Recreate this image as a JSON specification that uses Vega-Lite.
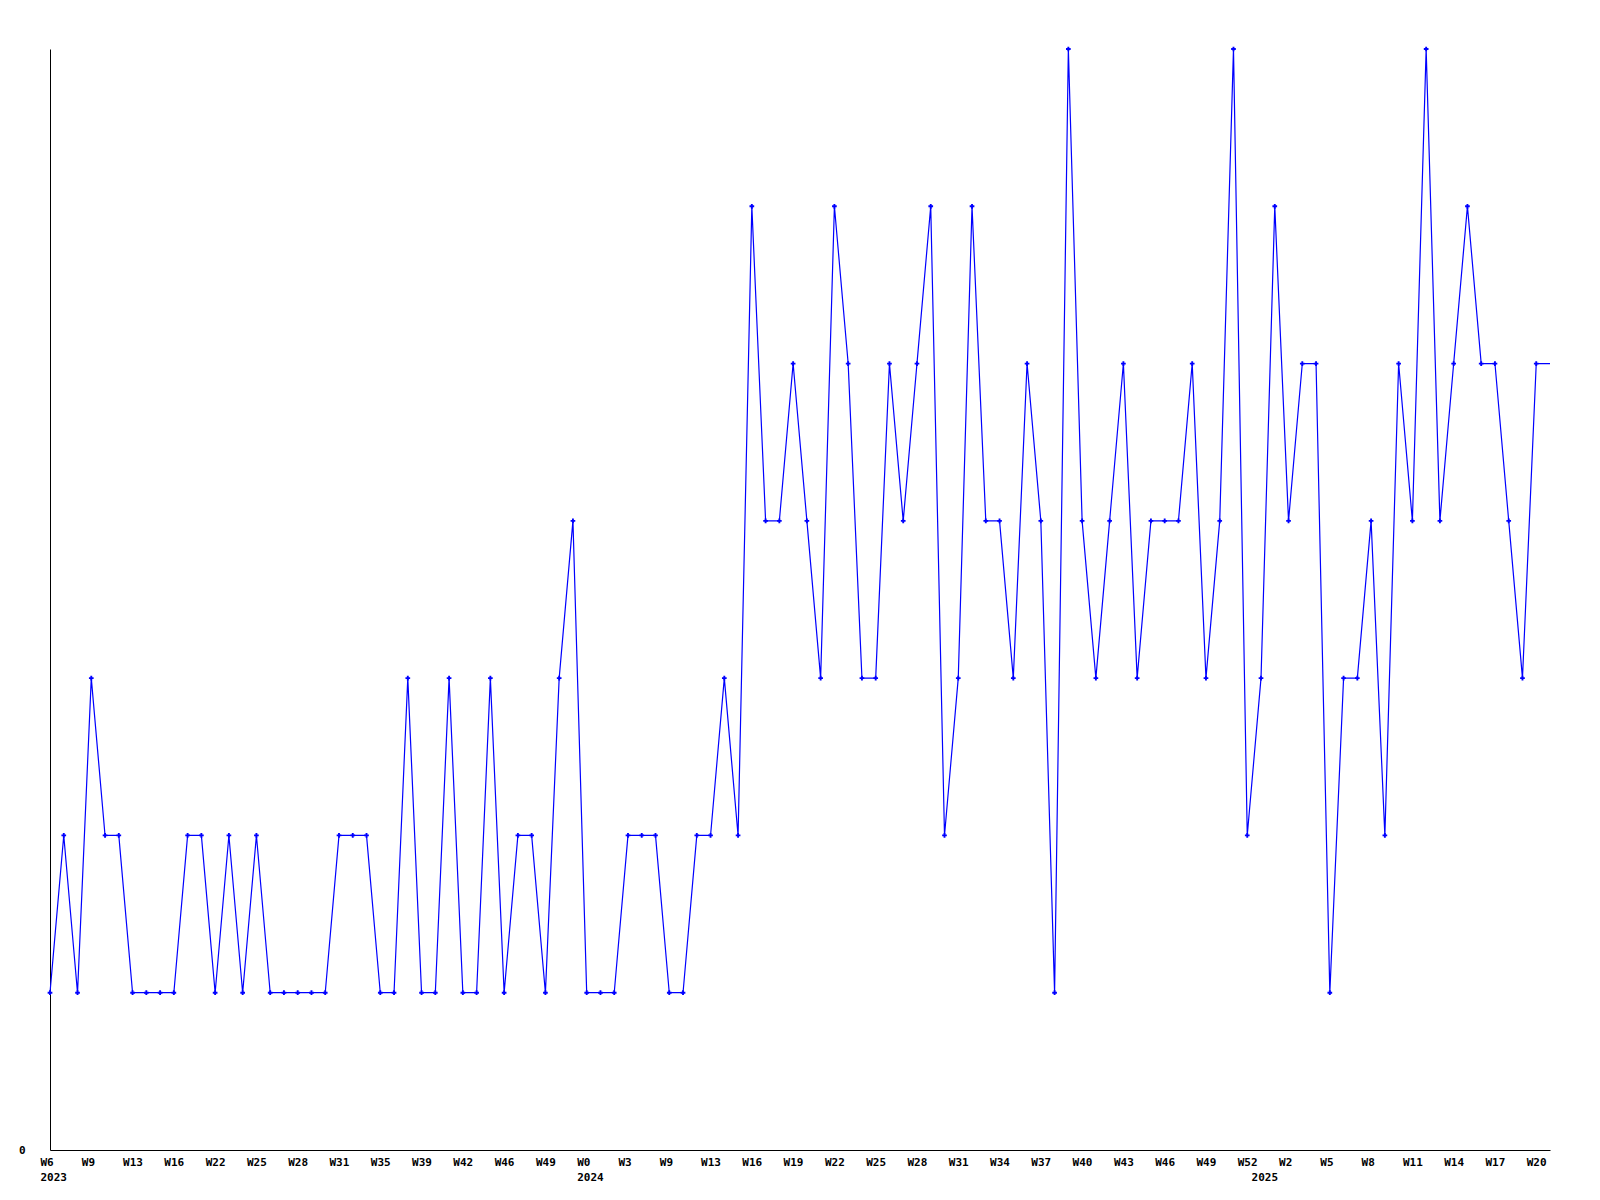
{
  "$schema": "https://vega.github.io/schema/vega-lite/v6.json",
  "width": 1500,
  "height": 1101,
  "autosize": {"type": "none"},
  "padding": {"left": 50, "top": 49, "right": 50, "bottom": 50},
  "background": "white",
  "config": {"view": {"stroke": null}},
  "data": {"values": [
    {"week":"2023 W6","v":1,"marker":true},{"week":"2023 W7","v":2,"marker":true},{"week":"2023 W8","v":1,"marker":true},
    {"week":"2023 W9","v":3,"marker":true},{"week":"2023 W10","v":2,"marker":true},{"week":"2023 W11","v":2,"marker":true},
    {"week":"2023 W13","v":1,"marker":true},{"week":"2023 W14","v":1,"marker":true},{"week":"2023 W15","v":1,"marker":true},
    {"week":"2023 W16","v":1,"marker":true},{"week":"2023 W17","v":2,"marker":true},{"week":"2023 W18","v":2,"marker":true},
    {"week":"2023 W22","v":1,"marker":true},{"week":"2023 W23","v":2,"marker":true},{"week":"2023 W24","v":1,"marker":true},
    {"week":"2023 W25","v":2,"marker":true},{"week":"2023 W26","v":1,"marker":true},{"week":"2023 W27","v":1,"marker":true},
    {"week":"2023 W28","v":1,"marker":true},{"week":"2023 W29","v":1,"marker":true},{"week":"2023 W30","v":1,"marker":true},
    {"week":"2023 W31","v":2,"marker":true},{"week":"2023 W32","v":2,"marker":true},{"week":"2023 W33","v":2,"marker":true},
    {"week":"2023 W35","v":1,"marker":true},{"week":"2023 W36","v":1,"marker":true},{"week":"2023 W37","v":3,"marker":true},
    {"week":"2023 W39","v":1,"marker":true},{"week":"2023 W40","v":1,"marker":true},{"week":"2023 W41","v":3,"marker":true},
    {"week":"2023 W42","v":1,"marker":true},{"week":"2023 W43","v":1,"marker":true},{"week":"2023 W44","v":3,"marker":true},
    {"week":"2023 W46","v":1,"marker":true},{"week":"2023 W47","v":2,"marker":true},{"week":"2023 W48","v":2,"marker":true},
    {"week":"2023 W49","v":1,"marker":true},{"week":"2023 W50","v":3,"marker":true},{"week":"2023 W51","v":4,"marker":true},
    {"week":"2024 W0","v":1,"marker":true},{"week":"2024 W1","v":1,"marker":true},{"week":"2024 W2","v":1,"marker":true},
    {"week":"2024 W3","v":2,"marker":true},{"week":"2024 W4","v":2,"marker":true},{"week":"2024 W5","v":2,"marker":true},
    {"week":"2024 W9","v":1,"marker":true},{"week":"2024 W10","v":1,"marker":true},{"week":"2024 W11","v":2,"marker":true},
    {"week":"2024 W13","v":2,"marker":true},{"week":"2024 W14","v":3,"marker":true},{"week":"2024 W15","v":2,"marker":true},
    {"week":"2024 W16","v":6,"marker":true},{"week":"2024 W17","v":4,"marker":true},{"week":"2024 W18","v":4,"marker":true},
    {"week":"2024 W19","v":5,"marker":true},{"week":"2024 W20","v":4,"marker":true},{"week":"2024 W21","v":3,"marker":true},
    {"week":"2024 W22","v":6,"marker":true},{"week":"2024 W23","v":5,"marker":true},{"week":"2024 W24","v":3,"marker":true},
    {"week":"2024 W25","v":3,"marker":true},{"week":"2024 W26","v":5,"marker":true},{"week":"2024 W27","v":4,"marker":true},
    {"week":"2024 W28","v":5,"marker":true},{"week":"2024 W29","v":6,"marker":true},{"week":"2024 W30","v":2,"marker":true},
    {"week":"2024 W31","v":3,"marker":true},{"week":"2024 W32","v":6,"marker":true},{"week":"2024 W33","v":4,"marker":true},
    {"week":"2024 W34","v":4,"marker":true},{"week":"2024 W35","v":3,"marker":true},{"week":"2024 W36","v":5,"marker":true},
    {"week":"2024 W37","v":4,"marker":true},{"week":"2024 W38","v":1,"marker":true},{"week":"2024 W39","v":7,"marker":true},
    {"week":"2024 W40","v":4,"marker":true},{"week":"2024 W41","v":3,"marker":true},{"week":"2024 W42","v":4,"marker":true},
    {"week":"2024 W43","v":5,"marker":true},{"week":"2024 W44","v":3,"marker":true},{"week":"2024 W45","v":4,"marker":true},
    {"week":"2024 W46","v":4,"marker":true},{"week":"2024 W47","v":4,"marker":true},{"week":"2024 W48","v":5,"marker":true},
    {"week":"2024 W49","v":3,"marker":true},{"week":"2024 W50","v":4,"marker":true},{"week":"2024 W51","v":7,"marker":true},
    {"week":"2024 W52","v":2,"marker":true},{"week":"2025 W0","v":3,"marker":true},{"week":"2025 W1","v":6,"marker":true},
    {"week":"2025 W2","v":4,"marker":true},{"week":"2025 W3","v":5,"marker":true},{"week":"2025 W4","v":5,"marker":true},
    {"week":"2025 W5","v":1,"marker":true},{"week":"2025 W6","v":3,"marker":true},{"week":"2025 W7","v":3,"marker":true},
    {"week":"2025 W8","v":4,"marker":true},{"week":"2025 W9","v":2,"marker":true},{"week":"2025 W10","v":5,"marker":true},
    {"week":"2025 W11","v":4,"marker":true},{"week":"2025 W12","v":7,"marker":true},{"week":"2025 W13","v":4,"marker":true},
    {"week":"2025 W14","v":5,"marker":true},{"week":"2025 W15","v":6,"marker":true},{"week":"2025 W16","v":5,"marker":true},
    {"week":"2025 W17","v":5,"marker":true},{"week":"2025 W18","v":4,"marker":true},{"week":"2025 W19","v":3,"marker":true},
    {"week":"2025 W20","v":5,"marker":true},{"week":"2025 W21","v":5,"marker":false}
  ]},
  "encoding": {
    "x": {
      "field": "week",
      "type": "ordinal",
      "sort": null,
      "scale": {"type": "point", "padding": 0},
      "axis": {
        "title": null,
        "values": ["2023 W6","2023 W9","2023 W13","2023 W16","2023 W22","2023 W25","2023 W28","2023 W31","2023 W35","2023 W39","2023 W42","2023 W46","2023 W49","2024 W0","2024 W3","2024 W9","2024 W13","2024 W16","2024 W19","2024 W22","2024 W25","2024 W28","2024 W31","2024 W34","2024 W37","2024 W40","2024 W43","2024 W46","2024 W49","2024 W52","2025 W0","2025 W2","2025 W5","2025 W8","2025 W11","2025 W14","2025 W17","2025 W20"],
        "labelExpr": "datum.value == '2025 W0' ? [' ', '2025'] : (indexof(['2023 W6','2024 W0'], datum.value) >= 0 ? [split(datum.value,' ')[1], split(datum.value,' ')[0]] : split(datum.value,' ')[1])",
        "ticks": false,
        "grid": false,
        "domainColor": "black",
        "domainWidth": 1,
        "labelAngle": 0,
        "labelAlign": "left",
        "labelBaseline": "top",
        "labelOffset": -10,
        "labelPadding": 6,
        "labelFont": "DejaVu Sans Mono",
        "labelFontWeight": "bold",
        "labelFontSize": 11,
        "labelColor": "black",
        "labelLineHeight": 15,
        "labelOverlap": false,
        "labelBound": false,
        "labelFlush": false
      }
    },
    "y": {
      "field": "v",
      "type": "quantitative",
      "scale": {"domain": [0, 7], "nice": false, "zero": true},
      "axis": {
        "title": null,
        "values": [0],
        "ticks": false,
        "grid": false,
        "domainColor": "black",
        "domainWidth": 1,
        "labelPadding": 25,
        "labelFont": "DejaVu Sans Mono",
        "labelFontWeight": "bold",
        "labelFontSize": 11,
        "labelColor": "black",
        "labelBaseline": "middle"
      }
    }
  },
  "layer": [
    {"mark": {"type": "line", "color": "#0000ff", "strokeWidth": 1.2, "interpolate": "linear"}},
    {
      "transform": [{"filter": "datum.marker"}],
      "mark": {"type": "point", "shape": "cross", "filled": true, "color": "#0000ff", "size": 22, "opacity": 1}
    }
  ]
}
